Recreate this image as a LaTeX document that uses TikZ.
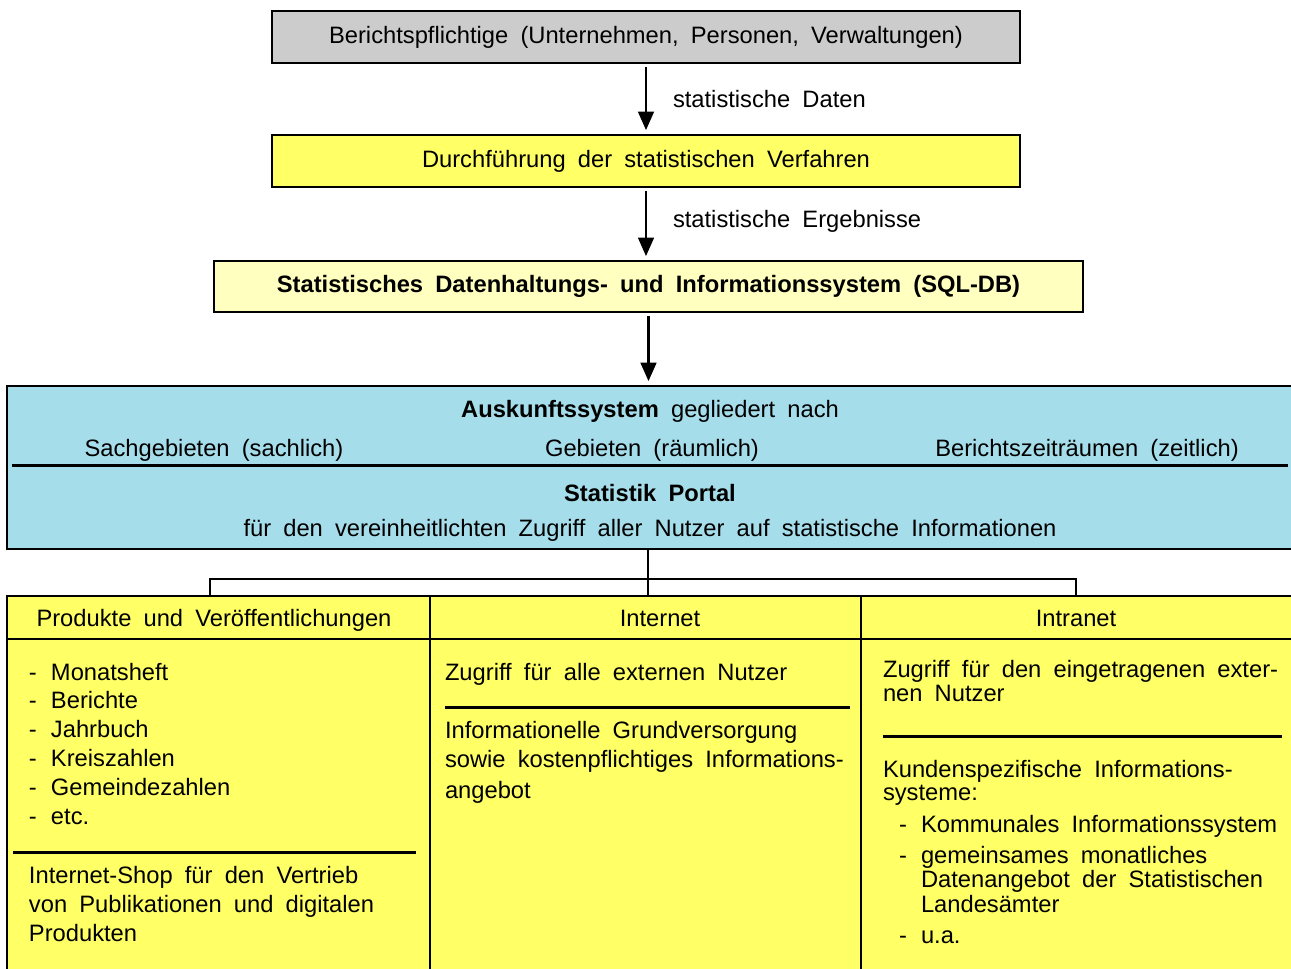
\documentclass[tikz,border=0pt]{standalone}
\usepackage{fontspec}
\setmainfont{Liberation Sans}[WordSpace=1.85]
\usetikzlibrary{arrows.meta}
\definecolor{boxgray}{RGB}{204,204,204}
\definecolor{boxyellow}{RGB}{255,255,102}
\definecolor{paleyellow}{RGB}{255,255,192}
\definecolor{portalblue}{RGB}{166,221,234}
\begin{document}
\begin{tikzpicture}[x=0.02cm,y=-0.02cm,
  every node/.style={font=\fontsize{13.5pt}{16pt}\selectfont, inner sep=0pt, outer sep=0pt},
  framebox/.style={draw, line width=0.8pt},
  flow/.style={line width=1.2pt, -{Triangle[length=10.5pt,width=9pt]}, shorten <=2.3pt, shorten >=2.8pt},
  tree/.style={line width=0.6pt},
  sep/.style={line width=1.7pt},
  txt/.style={anchor=base west},
  ctxt/.style={anchor=base}]
\useasboundingbox (0,0) rectangle (1291,968);
% top boxes
\node[framebox, fill=boxgray, minimum width=14.96cm, minimum height=1.04cm] (b1) at (646,37)
  {Berichtspflichtige (Unternehmen, Personen, Verwaltungen)};
\node[framebox, fill=boxyellow, minimum width=14.96cm, minimum height=1.04cm] (b2) at (646,161)
  {Durchführung der statistischen Verfahren};
\node[framebox, fill=paleyellow, minimum width=17.38cm, minimum height=1.02cm] (b3) at (648.5,286.5)
  {\bfseries Statistisches Datenhaltungs- und Informationssystem (SQL-DB)};
% portal
\node[framebox, fill=portalblue, minimum width=25.76cm, minimum height=3.26cm] (portal) at (651,467.5) {};
% arrows
\draw[flow] (b1.south) -- node[anchor=west, xshift=0.54cm] (l1) {statistische Daten} (b1.south |- b2.north);
\draw[flow] (b2.south) -- node[anchor=west, xshift=0.54cm, yshift=0.06cm] (l2) {statistische Ergebnisse} (b2.south |- b3.north);
\draw[flow] (b3.south) -- (b3.south |- portal.north);
% portal contents
\node[ctxt] (pa) at (650,417) {\textbf{Auskunftssystem} gegliedert nach};
\node[ctxt] (pb) at (214,456) {Sachgebieten (sachlich)};
\node[ctxt] (pc) at (652,456) {Gebieten (räumlich)};
\node[ctxt] (pd) at (1087,456) {Berichtszeiträumen (zeitlich)};
\coordinate (sl) at (12,465);
\coordinate (sr) at (1288,465);
\draw[sep] (sl) -- (sr);
\node[ctxt] (pe) at (650,501) {\textbf{Statistik Portal}};
\node[ctxt] (pf) at (650,536) {für den vereinheitlichten Zugriff aller Nutzer auf statistische Informationen};
% bottom columns
\node[framebox, fill=boxyellow, minimum width=8.46cm, minimum height=7.68cm] (p1) at (218.5,788) {};
\node[framebox, fill=boxyellow, minimum width=8.62cm, minimum height=7.68cm] (p2) at (645.5,788) {};
\node[framebox, fill=boxyellow, minimum width=8.78cm, minimum height=7.68cm] (p3) at (1080.5,788) {};
\coordinate (hdr) at (0,639);
\draw[line width=0.6pt] (p1.west |- hdr) -- (p3.east |- hdr);
% tree connectors
\coordinate (jl) at (210,579);
\coordinate (jm) at (648,579);
\coordinate (jr) at (1076,579);
\draw[tree] (jm |- portal.south) -- (jm |- p2.north);
\draw[tree] (jl |- p1.north) -- (jl) -- (jr) -- (jr |- p3.north);
% headers
\node[ctxt] (h1) at (214,626) {Produkte und Veröffentlichungen};
\node[ctxt] (h2) at (660,626) {Internet};
\node[ctxt] (h3) at (1076,626) {Intranet};
% column 1
\foreach \t [count=\i from 0] in {Monatsheft, Berichte, Jahrbuch, Kreiszahlen, Gemeindezahlen, etc.} {
  \node[txt] (da\i) at (29,680+28.8*\i) {-};
  \node[txt] (la\i) at (51,680+28.8*\i) {\t};
}
\coordinate (c1l) at (13,852);
\coordinate (c1r) at (416,852);
\draw[sep] (c1l) -- (c1r);
\node[txt] (s1) at (29,883) {Internet-Shop für den Vertrieb};
\node[txt] (s2) at (29,912) {von Publikationen und digitalen};
\node[txt] (s3) at (29,941) {Produkten};
% column 2
\node[txt] (i1) at (445,680) {Zugriff für alle externen Nutzer};
\coordinate (c2l) at (445,707);
\coordinate (c2r) at (850,707);
\draw[sep] (c2l) -- (c2r);
\node[txt] (i2) at (445,738) {Informationelle Grundversorgung};
\node[txt] (i3) at (445,767.5) {sowie kostenpflichtiges Informations-};
\node[txt] (i4) at (445,798) {angebot};
% column 3
\node[txt] (n1) at (883,677) {Zugriff für den eingetragenen exter-};
\node[txt] (n2) at (883,701) {nen Nutzer};
\coordinate (c3l) at (883,736);
\coordinate (c3r) at (1282,736);
\draw[sep] (c3l) -- (c3r);
\node[txt] (n3) at (883,777) {Kundenspezifische Informations-};
\node[txt] (n4) at (883,800) {systeme:};
\node[txt] (nd1) at (899,832) {-};
\node[txt] (n5) at (921,832) {Kommunales Informationssystem};
\node[txt] (nd2) at (899,863) {-};
\node[txt] (n6) at (921,863) {gemeinsames monatliches};
\node[txt] (n7) at (921,887.5) {Datenangebot der Statistischen};
\node[txt] (n8) at (921,912) {Landesämter};
\node[txt] (nd3) at (899,943) {-};
\node[txt] (n9) at (921,943) {u.a.};
\end{tikzpicture}
\end{document}
